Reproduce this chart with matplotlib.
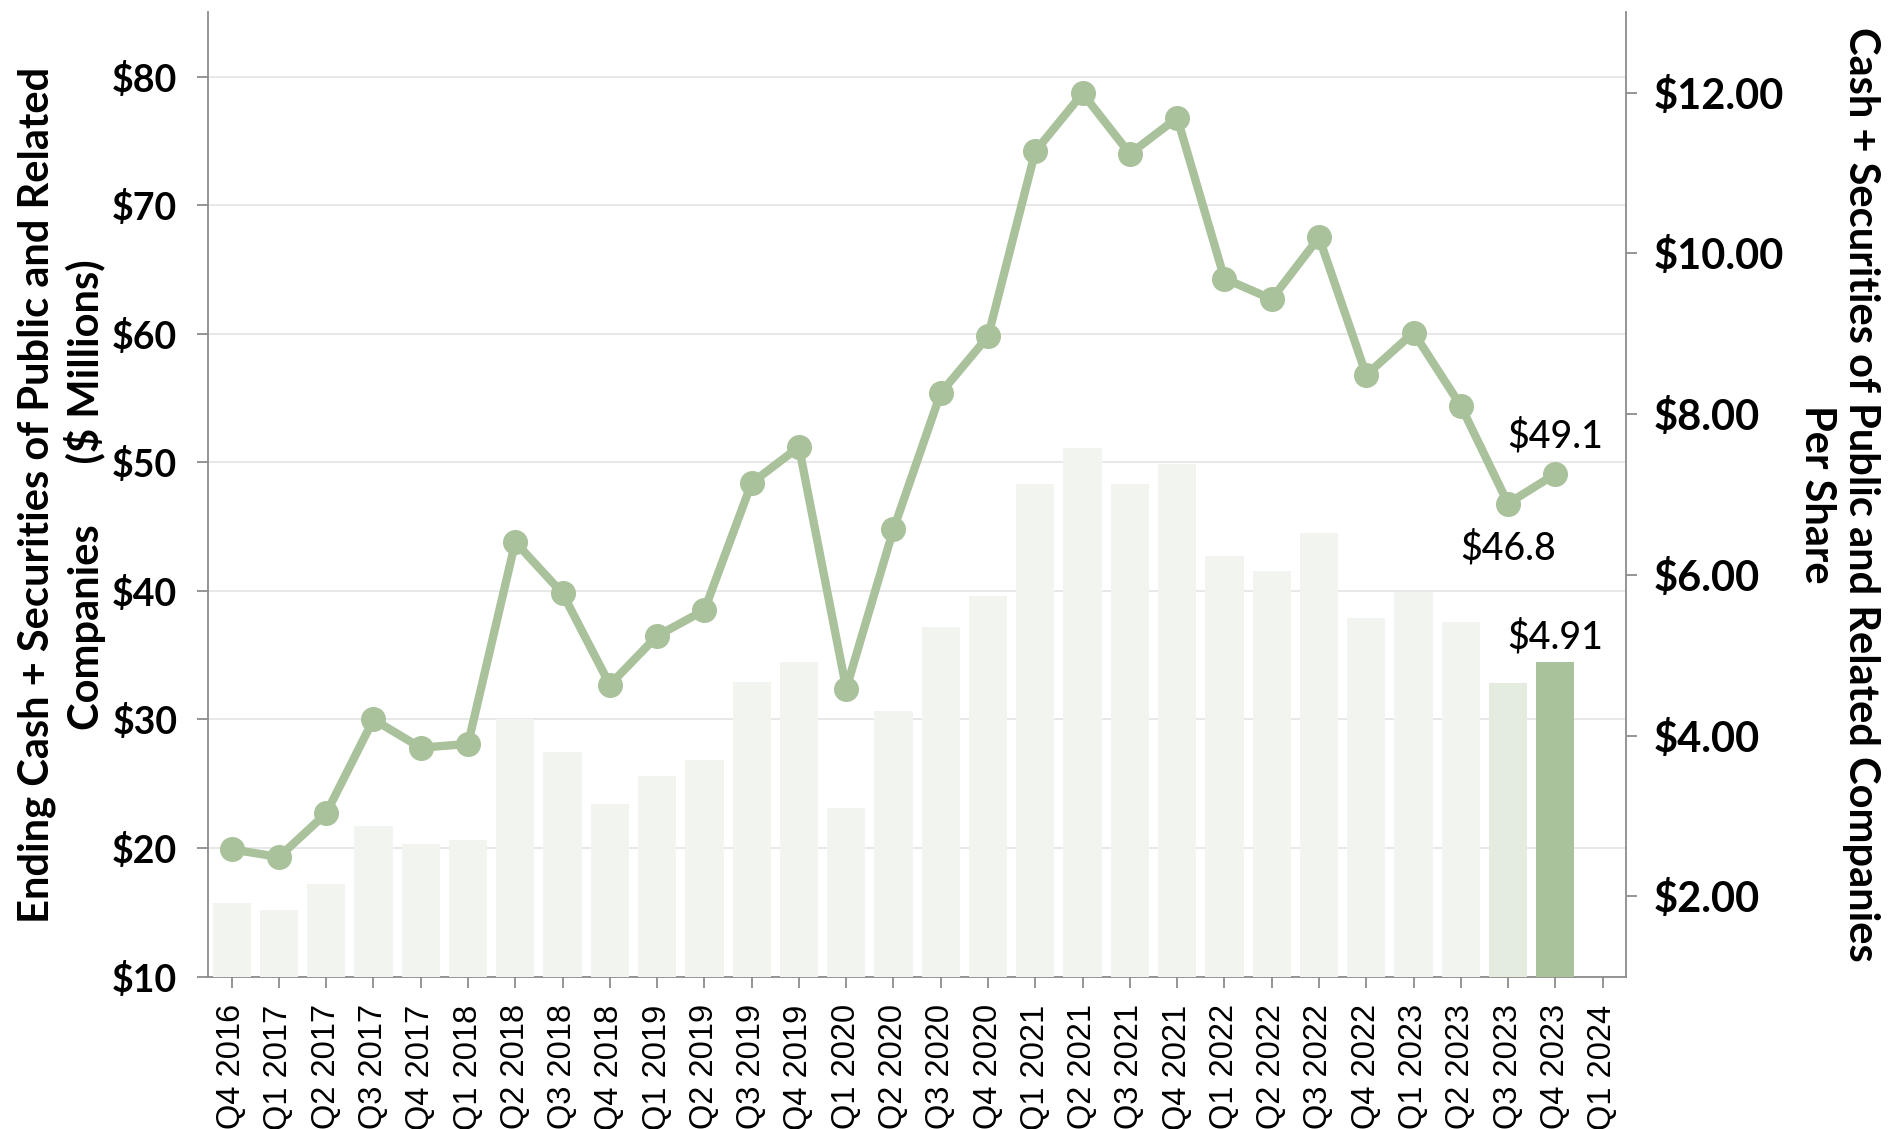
import matplotlib
matplotlib.use("Agg")
import matplotlib.pyplot as plt
from matplotlib.ticker import FuncFormatter, FixedLocator

# quarters on the x axis (last one has no data yet)
quarters = ["Q4 2016", "Q1 2017", "Q2 2017", "Q3 2017", "Q4 2017", "Q1 2018",
            "Q2 2018", "Q3 2018", "Q4 2018", "Q1 2019", "Q2 2019", "Q3 2019",
            "Q4 2019", "Q1 2020", "Q2 2020", "Q3 2020", "Q4 2020", "Q1 2021",
            "Q2 2021", "Q3 2021", "Q4 2021", "Q1 2022", "Q2 2022", "Q3 2022",
            "Q4 2022", "Q1 2023", "Q2 2023", "Q3 2023", "Q4 2023", "Q1 2024"]

# ending cash + securities, $ millions (left axis, line)
cash_total = [19.9, 19.3, 22.7, 30.0, 27.8, 28.1, 43.8, 39.8, 32.7, 36.5,
              38.5, 48.4, 51.2, 32.4, 44.8, 55.4, 59.8, 74.2, 78.7, 74.0,
              76.8, 64.3, 62.7, 67.5, 56.8, 60.1, 54.4, 46.8, 49.1]

# cash + securities per share, $ (right axis, bars)
per_share = [1.91, 1.83, 2.15, 2.87, 2.65, 2.70, 4.21, 3.80, 3.15, 3.50,
             3.70, 4.67, 4.92, 3.10, 4.31, 5.35, 5.74, 7.13, 7.58, 7.13,
             7.38, 6.23, 6.05, 6.52, 5.46, 5.79, 5.41, 4.66, 4.91]

left_ticks = [10, 20, 30, 40, 50, 60, 70, 80]
right_ticks = [2, 4, 6, 8, 10, 12]

GREEN = "#a9c29b"
PALE = "#f2f4ef"
MID = "#e4ebdf"
SPINE = "#8c8c8c"
LATO = ["Lato", "DejaVu Sans"]

fig = plt.figure(figsize=(18.91, 11.29), dpi=100)
ax = fig.add_axes([0.110, 0.135, 0.750, 0.854])
axb = ax.twinx()
axl = ax.twinx()

n = len(quarters)
x = list(range(n))

# grid + left scale on the base axes
ax.set_xlim(-0.5, n - 0.5)
ax.set_ylim(10, 85)
ax.yaxis.set_major_locator(FixedLocator(left_ticks))
ax.yaxis.set_major_formatter(FuncFormatter(lambda v, p: f"${v:.0f}"))
ax.grid(axis="y", color="#e6e6e6", linewidth=1.3)
ax.set_xticks(x)
ax.set_xticklabels(quarters, rotation=90)
ax.tick_params(axis="y", length=8, width=1.3, color=SPINE, pad=14, labelsize=27)
ax.tick_params(axis="x", length=8, width=1.3, color=SPINE, pad=12, labelsize=23.5)
for lbl in ax.get_xticklabels():
    lbl.set_fontfamily(["Liberation Sans", "DejaVu Sans"])
for lbl in ax.get_yticklabels():
    lbl.set_fontfamily(LATO)
    lbl.set_weight("bold")
for s in ["top", "right"]:
    ax.spines[s].set_visible(False)
for s in ["left", "bottom"]:
    ax.spines[s].set_color(SPINE)
    ax.spines[s].set_linewidth(1.3)

# bars on the right scale
colors = [PALE] * len(per_share)
colors[-2] = MID
colors[-1] = GREEN
axb.bar(x[:len(per_share)], per_share, width=0.81, color=colors, zorder=2)
axb.set_ylim(1, 13)
axb.yaxis.set_major_locator(FixedLocator(right_ticks))
axb.yaxis.set_major_formatter(FuncFormatter(lambda v, p: f"${v:.2f}"))
axb.tick_params(axis="y", length=8, width=1.3, color=SPINE, pad=12, labelsize=30)
for lbl in axb.get_yticklabels():
    lbl.set_fontfamily(LATO)
    lbl.set_weight("bold")
for s in ["top", "left", "bottom"]:
    axb.spines[s].set_visible(False)
axb.spines["right"].set_color(SPINE)
axb.spines["right"].set_linewidth(1.3)

# line on top, same scale as the left axis
axl.plot(x[:len(cash_total)], cash_total, color=GREEN, linewidth=6,
         marker="o", markersize=17, solid_joinstyle="round")
axl.set_ylim(ax.get_ylim())
axl.set_yticks([])
for s in axl.spines.values():
    s.set_visible(False)

# value labels for the latest quarters
axl.annotate(f"${cash_total[-1]:.1f}", (x[len(cash_total) - 1], cash_total[-1]),
             xytext=(0, 14), textcoords="offset points", ha="center", va="bottom",
             fontsize=27, family=LATO, weight="medium")
axl.annotate(f"${cash_total[-2]:.1f}", (x[len(cash_total) - 2], cash_total[-2]),
             xytext=(0, -19), textcoords="offset points", ha="center", va="top",
             fontsize=27, family=LATO, weight="medium")
axb.annotate(f"${per_share[-1]:.2f}", (x[len(per_share) - 1], per_share[-1]),
             xytext=(0, 5), textcoords="offset points", ha="center", va="bottom",
             fontsize=27, family=LATO, weight="medium")

# axis titles
fig.text(0.0325, 0.562,
         "Ending Cash + Securities of Public and Related\n"
         "Companies      ($ Millions)",
         rotation=90, ha="center", va="center", multialignment="center",
         fontsize=30, weight="bold", family=LATO, linespacing=1.24)
fig.text(0.9725, 0.562,
         "Cash + Securities of Public and Related Companies\nPer Share",
         rotation=270, ha="center", va="center", multialignment="center",
         fontsize=30, weight="bold", family=LATO, linespacing=1.2)

fig.savefig("out.png", dpi=100)
